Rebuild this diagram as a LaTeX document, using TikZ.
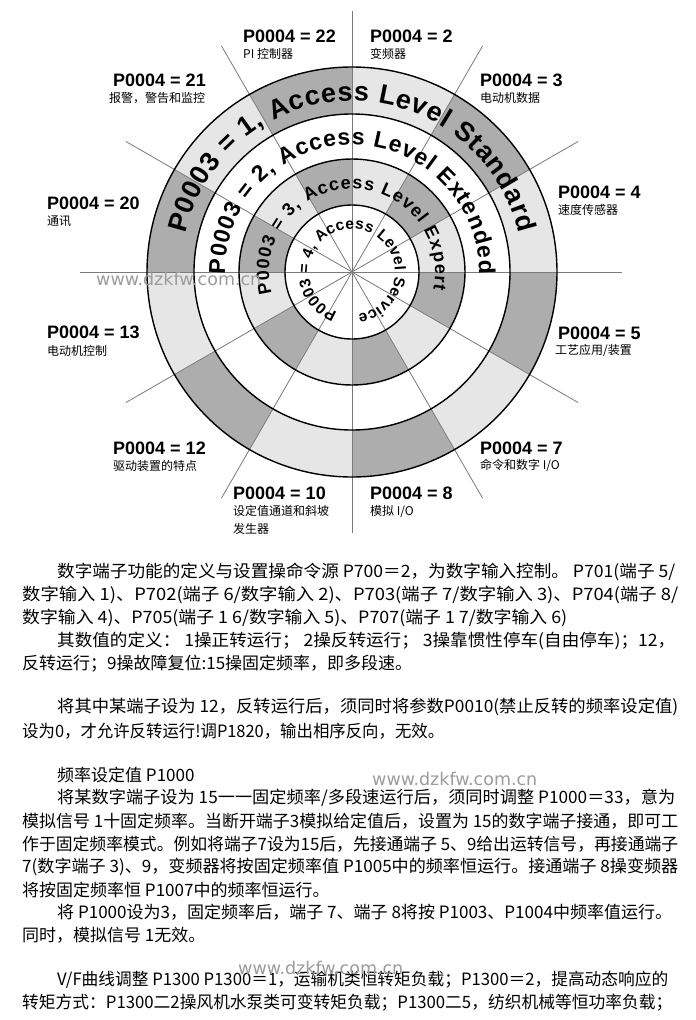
\documentclass[tikz,border=0pt]{standalone}
\usepackage{fontspec}
\usepackage{graphicx}
\setmainfont{Liberation Sans}
\newfontfamily\cjk{Noto Sans CJK SC}
\newfontfamily\webfont{DejaVu Sans}
\usetikzlibrary{decorations.text, positioning}

\definecolor{ringdark}{HTML}{ADADAD}
\definecolor{ringlight}{HTML}{E6E6E6}
\definecolor{raygray}{HTML}{7A7A7A}
\definecolor{markgray}{HTML}{9C9C9C}

\begin{document}
\begin{tikzpicture}[
  x=1pt, y=1pt,
  % label styles
  code/.style={font=\bfseries\fontsize{18}{18}\selectfont, anchor=west, inner sep=0pt},
  meaning/.style={font=\cjk\fontsize{12}{18}\selectfont, align=left, inner sep=0pt},
  % wheel styles
  ray/.style={draw=raygray, line width=0.8pt},
  ringline/.style={draw=black, line width=1.4pt},
  ringtext/.style={decorate, decoration={text along path, text align=fit to path, text={#1}}},
  % page text
  body/.style={font=\cjk\fontsize{17}{17}\selectfont, anchor=west, inner sep=0pt},
  watermark/.style={font=\webfont\fontsize{17.5}{17.5}\selectfont, text=markgray, anchor=west, inner sep=0pt},
]
\useasboundingbox[fill=white] (0,0) rectangle (696,-1020);

% ---- WHEEL ----
\begin{scope}[shift={(352,-272)}]
  % shaded segments
  \foreach \a [evaluate=\a as \b using \a+30] in {30,90,...,330} {
    \fill[ringdark] (\a:158) arc[start angle=\a, end angle=\b, radius=158]
      -- (\b:205) arc[start angle=\b, end angle=\a, radius=205] -- cycle;
    \fill[ringdark] (\a:67) arc[start angle=\a, end angle=\b, radius=67]
      -- (\b:113) arc[start angle=\b, end angle=\a, radius=113] -- cycle;
  }
  \foreach \a [evaluate=\a as \b using \a+30] in {0,60,...,300} {
    \fill[ringlight] (\a:158) arc[start angle=\a, end angle=\b, radius=158]
      -- (\b:205) arc[start angle=\b, end angle=\a, radius=205] -- cycle;
    \fill[ringlight] (\a:67) arc[start angle=\a, end angle=\b, radius=67]
      -- (\b:113) arc[start angle=\b, end angle=\a, radius=113] -- cycle;
  }

  % rays
  \foreach \a in {30,60,90,120,150,210,240,270,300,330}
    \draw[ray] (0,0) -- (\a:261);
  \draw[ray] (180:272) -- (0:270);

  % rings
  \foreach \r in {67,113,158,205}
    \draw[ringline] (0,0) circle[radius=\r];

  % access levels
  \path[ringtext={|\bfseries\fontsize{27}{27}\selectfont|P0003 = 1, Access Level Standard}]
    (167:171) arc[start angle=167, end angle=13, radius=171];
  \path[ringtext={|\bfseries\fontsize{23}{23}\selectfont|P0003 = 2, Access Level Extended}]
    (181:127) arc[start angle=181, end angle=-1, radius=127];
  \path[ringtext={|\bfseries\fontsize{18}{18}\selectfont|P0003 = 3, Access Level Expert}]
    (195:83) arc[start angle=195, end angle=-12, radius=83];
  \path[ringtext={|\bfseries\fontsize{15.5}{15.5}\selectfont|P0003 = 4, Access Level Service}]
    (250:43) arc[start angle=250, end angle=-82, radius=43];
\end{scope}

% ---- PARAMETER GROUPS ----
\node[code] (c22) at (243,-36) {P0004 = 22};
\node[meaning] (m22) [below=6pt of c22.south west, anchor=north west] {PI 控制器};
\node[code] (c2) at (370,-36) {P0004 = 2};
\node[meaning] (m2) [below=6pt of c2.south west, anchor=north west] {变频器};
\node[code] (c21) at (113,-80) {P0004 = 21};
\node[meaning] (m21) [below=6pt of c21.south west, anchor=north west, xshift=-4pt] {报警，警告和监控};
\node[code] (c3) at (480,-80) {P0004 = 3};
\node[meaning] (m3) [below=6pt of c3.south west, anchor=north west] {电动机数据};
\node[code] (c20) at (47,-203) {P0004 = 20};
\node[meaning] (m20) [below=6pt of c20.south west, anchor=north west] {通讯};
\node[code] (c4) at (558,-192) {P0004 = 4};
\node[meaning] (m4) [below=6pt of c4.south west, anchor=north west] {速度传感器};
\node[code] (c13) at (47,-332) {P0004 = 13};
\node[meaning] (m13) [below=7pt of c13.south west, anchor=north west] {电动机控制};
\node[code] (c5) at (558,-333) {P0004 = 5};
\node[meaning] (m5) [below=5pt of c5.south west, anchor=north west, xshift=-3pt] {工艺应用/装置};
\node[code] (c12) at (113,-448) {P0004 = 12};
\node[meaning] (m12) [below=6pt of c12.south west, anchor=north west] {驱动装置的特点};
\node[code] (c7) at (480,-448) {P0004 = 7};
\node[meaning] (m7) [below=4pt of c7.south west, anchor=north west] {命令和数字 I/O};
\node[code] (c10) at (233,-493) {P0004 = 10};
\node[meaning] (m10) [below=6pt of c10.south west, anchor=north west] {设定值通道和斜坡\\发生器};
\node[code] (c8) at (370,-493) {P0004 = 8};
\node[meaning] (m8) [below=6pt of c8.south west, anchor=north west] {模拟 I/O};

% ---- PAGE TEXT ----
\node[body] (l1) at (57,-572) {\resizebox{618pt}{\height}{数字端子功能的定义与设置操命令源 P700＝2，为数字输入控制。 P701(端子 5/}};
\node[body] (l2) at (22,-595) {\resizebox{656pt}{\height}{数字输入 1)、P702(端子 6/数字输入 2)、P703(端子 7/数字输入 3)、P704(端子 8/}};
\node[body] (l3) at (22,-618) {\resizebox{545pt}{\height}{数字输入 4)、P705(端子 1 6/数字输入 5)、P707(端子 1 7/数字输入 6)}};
\node[body] (l4) at (57,-641) {\resizebox{618pt}{\height}{其数值的定义： 1操正转运行； 2操反转运行； 3操靠惯性停车(自由停车)；12，}};
\node[body] (l5) at (22,-664) {反转运行；9操故障复位:15操固定频率，即多段速。};
\node[body] (l6) at (57,-707) {\resizebox{621pt}{\height}{将其中某端子设为 12，反转运行后，须同时将参数P0010(禁止反转的频率设定值)}};
\node[body] (l7) at (22,-731) {\resizebox{422pt}{\height}{设为0，才允许反转运行!调P1820，输出相序反向，无效。}};
\node[body] (l8) at (57,-775) {频率设定值 P1000};
\node[body] (l9) at (57,-798) {\resizebox{618pt}{\height}{将某数字端子设为 15一一固定频率/多段速运行后，须同时调整 P1000＝33，意为}};
\node[body] (l10) at (22,-821) {\resizebox{656pt}{\height}{模拟信号 1十固定频率。当断开端子3模拟给定值后，设置为 15的数字端子接通，即可工}};
\node[body] (l11) at (22,-844) {\resizebox{656pt}{\height}{作于固定频率模式。例如将端子7设为15后，先接通端子 5、9给出运转信号，再接通端子}};
\node[body] (l12) at (22,-867) {\resizebox{656pt}{\height}{7(数字端子 3)、9，变频器将按固定频率值 P1005中的频率恒运行。接通端子 8操变频器}};
\node[body] (l13) at (22,-890) {将按固定频率恒 P1007中的频率恒运行。};
\node[body] (l14) at (57,-912) {\resizebox{615pt}{\height}{将 P1000设为3，固定频率后，端子 7、端子 8将按 P1003、P1004中频率值运行。}};
\node[body] (l15) at (22,-935) {同时，模拟信号 1无效。};
\node[body] (l16) at (57,-980) {\resizebox{611pt}{\height}{V/F曲线调整 P1300 P1300＝1，运输机类恒转矩负载；P1300＝2，提高动态响应的}};
\node[body] (l17) at (22,-1003) {\resizebox{650pt}{\height}{转矩方式：P1300二2操风机水泵类可变转矩负载；P1300二5，纺织机械等恒功率负载；}};

% watermarks
\node[watermark] (w1) at (96,-279) {www.dzkfw.com.cn};
\node[watermark] (w2) at (372,-779) {www.dzkfw.com.cn};
\node[watermark] (w3) at (238,-968) {www.dzkfw.com.cn};

\end{tikzpicture}
\end{document}
